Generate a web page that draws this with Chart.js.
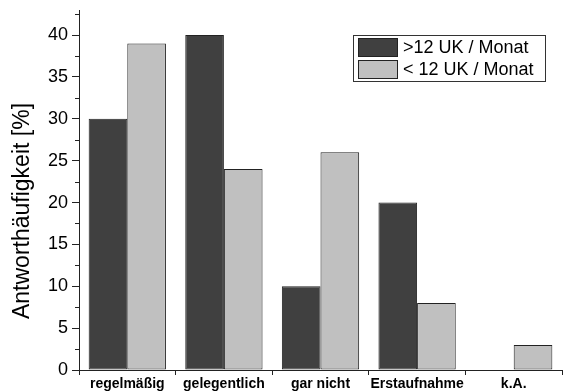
<!DOCTYPE html>
<html><head><meta charset="utf-8">
<script src="https://cdn.jsdelivr.net/npm/chart.js@4.4.0/dist/chart.umd.min.js"></script>
<style>html,body{margin:0;padding:0;background:#fff}#wrap{width:563px;height:391px}</style>
</head><body><div id="wrap"><canvas id="c" width="563" height="391"></canvas></div>
<script>
const categories = ['regelmäßig', 'gelegentlich', 'gar nicht', 'Erstaufnahme', 'k.A.'];
const seriesOver12 = [30, 40, 10, 20, 0];
const seriesUnder12 = [39, 24, 26, 8, 3];
const seriesLabels = ['>12 UK / Monat', '< 12 UK / Monat'];
const yMinorTicks = [2.5, 7.5, 12.5, 17.5, 22.5, 27.5, 32.5, 37.5, 42.5];
const yTitle = 'Antworthäufigkeit [%]';
const FONT = '"Liberation Sans", Arial, sans-serif';

const extras = {
  id: 'extras',
  afterDraw(chart) {
    const y = chart.scales.y, ctx = chart.ctx;
    ctx.save();
    ctx.strokeStyle = '#222'; ctx.lineWidth = 1;
    yMinorTicks.forEach(v => {
      const py = Math.round(y.getPixelForValue(v)) + 0.5;
      ctx.beginPath(); ctx.moveTo(y.right - 4, py); ctx.lineTo(y.right, py); ctx.stroke();
    });
    ctx.save();
    ctx.translate(23, 211); ctx.rotate(-Math.PI / 2);
    ctx.font = '23px ' + FONT; ctx.fillStyle = '#000';
    ctx.textAlign = 'center'; ctx.textBaseline = 'middle';
    ctx.fillText(yTitle, 0, 0);
    ctx.restore();
    ctx.fillStyle = '#fff'; ctx.strokeStyle = '#333';
    ctx.fillRect(353.5, 35.5, 192, 46); ctx.strokeRect(353.5, 35.5, 192, 46);
    ctx.font = '18px ' + FONT;
    ctx.textBaseline = 'middle'; ctx.textAlign = 'left';
    chart.data.datasets.forEach((ds, i) => {
      const top = 38.5 + i * 22;
      ctx.fillStyle = ds.backgroundColor; ctx.fillRect(358.5, top, 39, 18);
      ctx.strokeStyle = '#222'; ctx.strokeRect(358.5, top, 39, 18);
      ctx.fillStyle = '#000'; ctx.fillText(ds.label, 403, top + 9.5);
    });
    ctx.restore();
  }
};

new Chart(document.getElementById('c'), {
  type: 'bar',
  data: {
    labels: categories,
    datasets: [
      { label: seriesLabels[0], data: seriesOver12, backgroundColor: '#404040', borderColor: '#222', borderWidth: 1, borderSkipped: false },
      { label: seriesLabels[1], data: seriesUnder12, backgroundColor: '#c0c0c0', borderColor: '#222', borderWidth: 1, borderSkipped: false }
    ]
  },
  options: {
    responsive: false, animation: false, devicePixelRatio: 1,
    layout: { padding: { top: 10, right: 1, left: 0, bottom: 0 } },
    datasets: { bar: { categoryPercentage: 0.8, barPercentage: 1 } },
    plugins: { legend: { display: false }, tooltip: { enabled: false } },
    scales: {
      x: {
        grid: { display: true, drawOnChartArea: false, offset: true, tickLength: 5, color: '#222' },
        border: { display: true, color: '#222', width: 1 },
        ticks: { color: '#000', padding: 1, autoSkip: false, maxRotation: 0, minRotation: 0, font: { family: FONT, size: 14, weight: 'bold' } },
        afterFit(s) { s.height = 21; s.paddingLeft = 0; s.paddingRight = 0; }
      },
      y: {
        min: 0, max: 43,
        grid: { display: true, drawOnChartArea: false, tickLength: 7, color: '#222' },
        border: { display: true, color: '#222', width: 1 },
        ticks: { stepSize: 5, includeBounds: false, padding: 4, color: '#000', font: { family: FONT, size: 18 } },
        title: { display: false },
        afterFit(s) { s.width = 79; s.paddingTop = 0; s.paddingBottom = 0; }
      }
    }
  },
  plugins: [extras]
});
</script></body></html>
